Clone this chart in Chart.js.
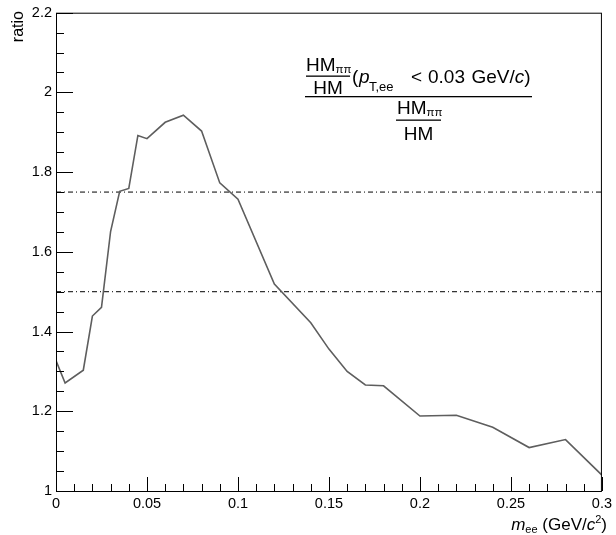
<!DOCTYPE html>
<html>
<head>
<meta charset="utf-8">
<script src="https://cdn.jsdelivr.net/npm/chart.js@4.4.1/dist/chart.umd.min.js"></script>
<style>
  html, body { margin: 0; padding: 0; background: #fff; }
  canvas { display: block; }
</style>
</head>
<body>
<canvas id="myChart" width="616" height="535"></canvas>
<script>
// m_ee (GeV/c^2)
const masas = [0, 0.005, 0.015, 0.02, 0.025, 0.03, 0.035, 0.04, 0.045, 0.05, 0.06, 0.07, 0.08, 0.09, 0.1,
  0.12, 0.14, 0.15, 0.16, 0.17, 0.18, 0.2, 0.22, 0.24, 0.26, 0.28, 0.3];
// ratio
const ratios = [1.327, 1.271, 1.303, 1.439, 1.461, 1.651, 1.752, 1.759, 1.892, 1.884, 1.925, 1.943, 1.903, 1.773, 1.732,
  1.519, 1.422, 1.356, 1.300, 1.266, 1.264, 1.188, 1.190, 1.160, 1.109, 1.129, 1.040];
// lineas de referencia
const lineasRef = [1.75, 1.5];

const xMin = 0, xMax = 0.3;
const yMin = 1, yMax = 2.2;

const fuente = '"Liberation Sans", Arial, Helvetica, sans-serif';
const ctx = document.getElementById('myChart').getContext('2d');

function etiqueta(v) {
  return String(Number(v.toFixed(3)));
}

// texto con trozos de distinta fuente (sub/superindices)
function textoRico(c, partes, x, y) {
  let cx = x;
  partes.forEach(p => {
    c.font = p.f;
    if (p.x !== undefined) cx = p.x;
    c.fillText(p.t, cx, y + (p.dy || 0));
    cx += c.measureText(p.t).width;
  });
  return cx;
}

const marcoRoot = {
  id: 'marcoRoot',
  afterDatasetsDraw(chart) {
    const c = chart.ctx;
    const a = chart.chartArea;
    const sx = chart.scales.x;
    const sy = chart.scales.y;
    c.save();
    c.strokeStyle = '#000';
    c.lineWidth = 1;
    c.strokeRect(a.left + 0.5, a.top + 0.5, a.right - a.left - 1, a.bottom - a.top);

    // marcas eje x
    c.beginPath();
    for (let i = 0; i <= 30; i++) {
      const px = Math.round(sx.getPixelForValue(i * 0.01)) + 0.5;
      const largo = (i % 5 === 0) ? 14 : 7;
      c.moveTo(px, a.bottom);
      c.lineTo(px, a.bottom - largo);
    }
    // marcas eje y
    for (let i = 0; i <= 24; i++) {
      const py = Math.round(sy.getPixelForValue(1 + i * 0.05)) + 0.5;
      const largo = (i % 4 === 0) ? 17 : 8;
      c.moveTo(a.left, py);
      c.lineTo(a.left + largo, py);
    }
    c.stroke();

    c.fillStyle = '#000';
    c.textBaseline = 'alphabetic';
    c.textAlign = 'left';

    const f19 = '19px ' + fuente;
    const f19i = 'italic 19px ' + fuente;
    const f12 = '11.5px ' + fuente;
    const f13 = '13px ' + fuente;

    // fraccion superior
    textoRico(c, [{ t: 'HM', f: f19 }, { t: '\u03C0\u03C0', f: f12, dy: 2 }], 306, 70.5);
    c.fillRect(306, 75.5, 44, 1.3);
    c.font = f19;
    c.textAlign = 'center';
    c.fillText('HM', 328, 94);
    c.textAlign = 'left';
    textoRico(c, [
      { t: '(', f: f19, x: 352 },
      { t: 'p', f: f19i, x: 359 },
      { t: 'T,ee', f: f13, dy: 8, x: 369 },
      { t: '<', f: f19, x: 411 },
      { t: '0.03', f: f19, x: 428 },
      { t: 'GeV/', f: f19, x: 471.5 },
      { t: 'c', f: f19i },
      { t: ')', f: f19 }
    ], 352, 83);
    c.fillRect(305, 96, 227, 1.3);

    // fraccion inferior
    textoRico(c, [{ t: 'HM', f: f19 }, { t: '\u03C0\u03C0', f: f12, dy: 2 }], 397, 113.5);
    c.fillRect(396, 119.5, 45, 1.3);
    c.font = f19;
    c.textAlign = 'center';
    c.fillText('HM', 418.5, 140);

    // titulo eje x
    c.textAlign = 'left';
    const f17 = '17px ' + fuente;
    const f17i = 'italic 17px ' + fuente;
    const f11 = '11px ' + fuente;
    const ancho = (() => {
      let w = 0;
      c.font = f17i; w += c.measureText('m').width;
      c.font = f11; w += c.measureText('ee').width;
      c.font = f17; w += c.measureText(' (GeV/').width + c.measureText(')').width;
      c.font = f17i; w += c.measureText('c').width;
      c.font = f11; w += c.measureText('2').width;
      return w;
    })();
    textoRico(c, [
      { t: 'm', f: f17i },
      { t: 'ee', f: f11, dy: 3 },
      { t: ' (GeV/', f: f17 },
      { t: 'c', f: f17i },
      { t: '2', f: f11, dy: -7 },
      { t: ')', f: f17 }
    ], 607 - ancho, 530);

    // titulo eje y
    c.save();
    c.translate(23, 11);
    c.rotate(-Math.PI / 2);
    c.textAlign = 'right';
    c.font = '16px ' + fuente;
    c.fillText('ratio', 0, 0);
    c.restore();

    c.restore();
  }
};

const datasets = [{
  data: masas.map((m, i) => ({ x: m, y: ratios[i] })),
  borderColor: '#5e5e5e',
  borderWidth: 1.6,
  pointRadius: 0,
  tension: 0,
  fill: false
}];

lineasRef.forEach(v => {
  datasets.push({
    data: [{ x: xMin, y: v }, { x: xMax, y: v }],
    borderColor: '#000',
    borderWidth: 1,
    borderDash: [5, 3, 1, 3],
    pointRadius: 0,
    fill: false
  });
});

const myChart = new Chart(ctx, {
  type: 'line',
  data: { datasets: datasets },
  options: {
    responsive: false,
    animation: false,
    devicePixelRatio: 1,
    layout: { padding: { top: 10, right: 9, left: 0, bottom: 0 } },
    plugins: {
      legend: { display: false },
      tooltip: { enabled: false }
    },
    scales: {
      x: {
        type: 'linear',
        min: xMin,
        max: xMax,
        grid: { display: false, drawTicks: false },
        border: { display: false },
        afterFit: s => { s.height = 44; },
        ticks: {
          stepSize: 0.05,
          autoSkip: false,
          maxRotation: 0,
          padding: 4,
          color: '#000',
          font: { family: fuente, size: 14.5 },
          callback: v => etiqueta(v)
        }
      },
      y: {
        type: 'linear',
        min: yMin,
        max: yMax,
        grid: { display: false, drawTicks: false },
        border: { display: false },
        afterFit: s => { s.width = 56; },
        ticks: {
          stepSize: 0.2,
          autoSkip: false,
          padding: 4,
          color: '#000',
          font: { family: fuente, size: 14.5 },
          callback: v => etiqueta(v)
        }
      }
    }
  },
  plugins: [marcoRoot]
});
</script>
</body>
</html>
